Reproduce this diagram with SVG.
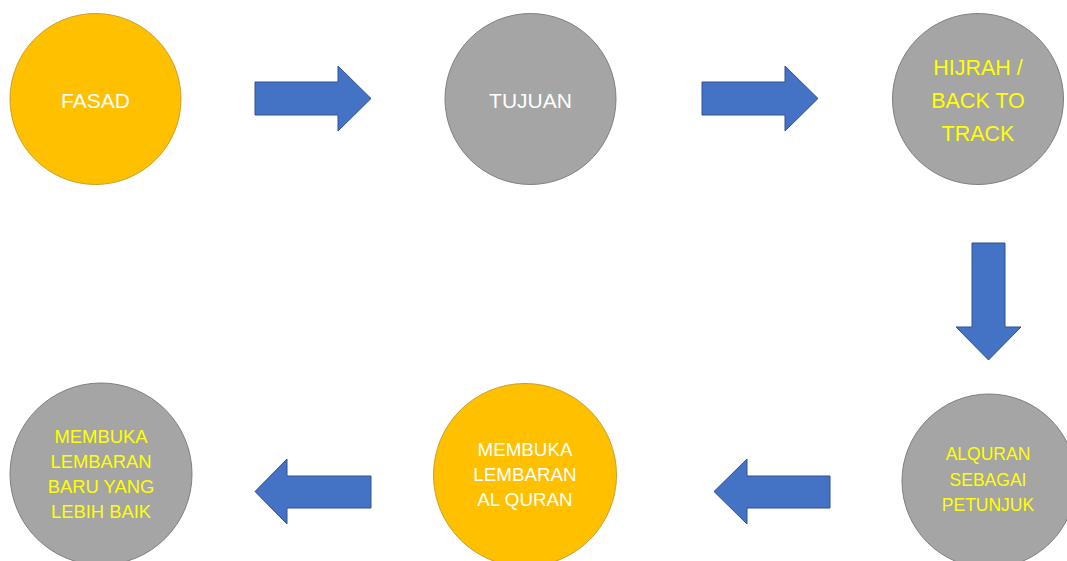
<svg xmlns="http://www.w3.org/2000/svg" width="1067" height="561" viewBox="0 0 1067 561">
<style>
.y{fill:#FFC000;stroke:#C9A02A;stroke-width:1}
.g{fill:#A5A5A5;stroke:#7F7F7F;stroke-width:1}
.t{font-family:"Liberation Sans",Arial,sans-serif;text-anchor:middle}
.w{fill:#FFFFFF}
.yt{fill:#FFFF00}
.a{fill:#4472C4;stroke:#2F528F;stroke-width:1}
</style>
<rect width="1067" height="561" fill="#FFFFFF"/>
<g id="connectors">
<polygon class="a" points="255,82 338,82 338,66 371,98.5 338,131 338,115 255,115"/>
<polygon class="a" points="702,82 785,82 785,66 818,98.5 785,131 785,115 702,115"/>
<polygon class="a" points="972,243 1005,243 1005,327 1021,327 988.5,360 956,327 972,327"/>
<polygon class="a" points="830,476 747,476 747,459 714,491.5 747,524 747,508 830,508"/>
<polygon class="a" points="371,476 287,476 287,459 255,491.5 287,524 287,508 371,508"/>
</g>
<g id="fasad">
<circle class="y" cx="95.5" cy="99" r="85.5"/>
<text class="t w" x="95.5" y="108" font-size="21">FASAD</text>
</g>
<g id="tujuan">
<circle class="g" cx="530.5" cy="99" r="85.5"/>
<text class="t w" x="530.5" y="108" font-size="21">TUJUAN</text>
</g>
<g id="hijrah">
<circle class="g" cx="978" cy="99" r="85.5"/>
<text class="t yt" font-size="21.5"><tspan x="978" y="75">HIJRAH /</tspan><tspan x="978" y="108">BACK TO</tspan><tspan x="978" y="141">TRACK</tspan></text>
</g>
<g id="alquran">
<circle class="g" cx="989" cy="481" r="87"/>
<text class="t yt" font-size="17.5"><tspan x="988" y="460">ALQURAN</tspan><tspan x="988" y="486">SEBAGAI</tspan><tspan x="988" y="511">PETUNJUK</tspan></text>
</g>
<g id="membuka-alquran">
<circle class="y" cx="525" cy="475" r="91.5"/>
<text class="t w" font-size="18.8"><tspan x="525" y="456">MEMBUKA</tspan><tspan x="525" y="481">LEMBARAN</tspan><tspan x="525" y="506">AL QURAN</tspan></text>
</g>
<g id="membuka-baru">
<circle class="g" cx="101" cy="474" r="91"/>
<text class="t yt" font-size="18.4"><tspan x="101" y="443">MEMBUKA</tspan><tspan x="101" y="468">LEMBARAN</tspan><tspan x="101" y="493">BARU YANG</tspan><tspan x="101" y="518">LEBIH BAIK</tspan></text>
</g>
</svg>
